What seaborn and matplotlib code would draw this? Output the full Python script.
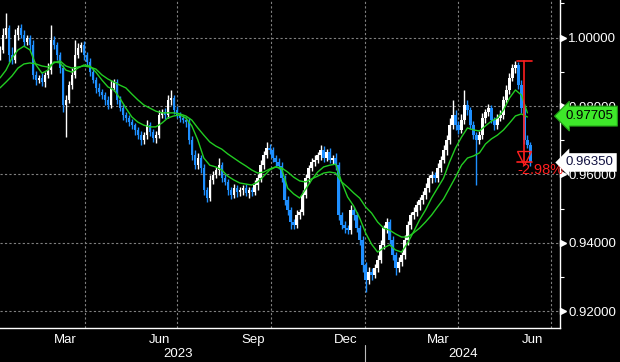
import numpy as np
import pandas as pd
import matplotlib
matplotlib.use("Agg")
import matplotlib.pyplot as plt
import matplotlib.dates as mdates
import matplotlib.transforms as mtransforms
from matplotlib.ticker import MultipleLocator, NullFormatter, FormatStrFormatter
import seaborn as sns

# candle closes (roughly every 3 calendar days)
closes = [
    0.9964, 1.0008, 1.0028, 0.9949, 0.9935, 1.0008, 1.0028, 1.0008, 0.9987, 0.9999,
    0.9978, 0.9891, 0.9876, 0.9882, 0.9870, 0.9891, 0.9905, 0.9993, 0.9978, 0.9949,
    0.9911, 0.9803, 0.9818, 0.9861, 0.9891, 0.9949, 0.9970, 0.9978, 0.9949, 0.9929,
    0.9899, 0.9876, 0.9853, 0.9841, 0.9832, 0.9818, 0.9803, 0.9853, 0.9870, 0.9818,
    0.9794, 0.9774, 0.9765, 0.9753, 0.9744, 0.9730, 0.9715, 0.9701, 0.9715, 0.9744,
    0.9724, 0.9706, 0.9715, 0.9774, 0.9782, 0.9774, 0.9818, 0.9823, 0.9788, 0.9774,
    0.9765, 0.9759, 0.9753, 0.9701, 0.9657, 0.9627, 0.9648, 0.9619, 0.9554, 0.9531,
    0.9584, 0.9598, 0.9613, 0.9627, 0.9589, 0.9578, 0.9554, 0.9540, 0.9560, 0.9549,
    0.9554, 0.9560, 0.9546, 0.9554, 0.9549, 0.9569, 0.9589, 0.9627, 0.9657, 0.9677,
    0.9671, 0.9648, 0.9636, 0.9625, 0.9589, 0.9525, 0.9496, 0.9461, 0.9452, 0.9481,
    0.9490, 0.9540, 0.9589, 0.9619, 0.9636, 0.9642, 0.9657, 0.9671, 0.9648, 0.9665,
    0.9642, 0.9648, 0.9627, 0.9481, 0.9452, 0.9443, 0.9437, 0.9496, 0.9481, 0.9443,
    0.9408, 0.9335, 0.9291, 0.9315, 0.9306, 0.9326, 0.9350, 0.9394, 0.9443, 0.9461,
    0.9408, 0.9364, 0.9326, 0.9344, 0.9364, 0.9408, 0.9452, 0.9481, 0.9490, 0.9511,
    0.9525, 0.9540, 0.9560, 0.9589, 0.9598, 0.9589, 0.9619, 0.9642, 0.9671, 0.9701,
    0.9744, 0.9774, 0.9744, 0.9730, 0.9759, 0.9803, 0.9788, 0.9744, 0.9715, 0.9701,
    0.9715, 0.9765, 0.9782, 0.9794, 0.9759, 0.9744, 0.9765, 0.9774, 0.9818, 0.9847,
    0.9882, 0.9911, 0.9920, 0.9861, 0.9794, 0.9701, 0.9686, 0.9635,
]
first_open = 0.9950

# wick lengths in pips above / below the body
upper_wick = [
    12, 20, 44, 10, 25, 18, 8, 12, 15, 10,
    8, 15, 12, 10, 14, 9, 20, 45, 12, 10,
    8, 10, 15, 12, 20, 44, 15, 10, 12, 8,
    10, 12, 9, 14, 10, 8, 12, 23, 10, 8,
    10, 12, 9, 8, 10, 7, 9, 12, 10, 14,
    10, 9, 12, 15, 10, 12, 14, 24, 10, 12,
    8, 10, 9, 12, 10, 14, 15, 10, 12, 9,
    14, 12, 10, 21, 10, 12, 9, 10, 12, 8,
    10, 9, 12, 8, 10, 14, 12, 15, 12, 18,
    12, 10, 9, 12, 10, 8, 12, 10, 9, 14,
    10, 15, 12, 10, 12, 14, 10, 15, 12, 10,
    12, 9, 14, 10, 8, 12, 10, 14, 10, 9,
    10, 12, 8, 14, 10, 12, 15, 14, 10, 12,
    10, 12, 9, 14, 10, 15, 12, 10, 14, 12,
    10, 12, 14, 10, 12, 10, 14, 12, 15, 14,
    20, 44, 15, 12, 18, 44, 14, 10, 12, 9,
    12, 14, 10, 12, 10, 9, 12, 14, 12, 15,
    14, 12, 12, 10, 15, 12, 14, 8,
]
lower_wick = [
    15, 10, 8, 20, 12, 10, 14, 9, 12, 10,
    14, 12, 15, 10, 12, 14, 9, 10, 12, 15,
    14, 20, 94, 10, 12, 9, 10, 12, 14, 10,
    12, 10, 15, 12, 10, 14, 12, 10, 9, 12,
    10, 14, 12, 10, 12, 15, 10, 14, 12, 10,
    12, 10, 14, 9, 10, 12, 10, 14, 12, 10,
    12, 10, 14, 12, 15, 10, 12, 14, 15, 12,
    10, 12, 9, 14, 12, 10, 15, 12, 10, 14,
    12, 15, 10, 14, 12, 10, 14, 12, 10, 9,
    10, 12, 14, 10, 12, 15, 14, 20, 12, 10,
    12, 10, 9, 14, 10, 12, 10, 14, 12, 10,
    10, 12, 14, 15, 12, 14, 10, 12, 14, 12,
    15, 20, 35, 12, 14, 10, 12, 10, 12, 14,
    12, 14, 20, 10, 12, 10, 14, 12, 10, 12,
    14, 10, 12, 10, 14, 12, 10, 12, 10, 14,
    12, 10, 14, 12, 10, 12, 14, 12, 10, 132,
    12, 10, 14, 12, 10, 14, 12, 10, 12, 10,
    12, 10, 14, 12, 15, 12, 10, 10,
]

# the two moving averages, read every second candle
ma_fast = [
    0.9882, 0.9905, 0.9940, 0.9964, 0.9975, 0.9964, 0.9920, 0.9896, 0.9905, 0.9929,
    0.9926, 0.9905, 0.9899, 0.9911, 0.9920, 0.9917, 0.9899, 0.9876, 0.9856, 0.9847,
    0.9823, 0.9794, 0.9768, 0.9753, 0.9744, 0.9739, 0.9739, 0.9750, 0.9765, 0.9771,
    0.9774, 0.9765, 0.9742, 0.9701, 0.9648, 0.9627, 0.9622, 0.9613, 0.9595, 0.9584,
    0.9575, 0.9572, 0.9569, 0.9578, 0.9595, 0.9613, 0.9622, 0.9616, 0.9560, 0.9543,
    0.9531, 0.9557, 0.9584, 0.9607, 0.9622, 0.9627, 0.9630, 0.9578, 0.9534, 0.9508,
    0.9473, 0.9429, 0.9396, 0.9373, 0.9385, 0.9394, 0.9379, 0.9373, 0.9399, 0.9432,
    0.9467, 0.9496, 0.9531, 0.9560, 0.9589, 0.9636, 0.9677, 0.9709, 0.9736, 0.9730,
    0.9727, 0.9742, 0.9756, 0.9765, 0.9788, 0.9823, 0.9847, 0.9832, 0.9780,
]
ma_slow = [
    0.9853, 0.9870, 0.9888, 0.9911, 0.9923, 0.9926, 0.9923, 0.9917, 0.9914, 0.9926,
    0.9932, 0.9917, 0.9911, 0.9914, 0.9917, 0.9914, 0.9908, 0.9891, 0.9879, 0.9870,
    0.9861, 0.9853, 0.9835, 0.9818, 0.9803, 0.9794, 0.9785, 0.9780, 0.9780, 0.9780,
    0.9777, 0.9771, 0.9759, 0.9736, 0.9715, 0.9695, 0.9683, 0.9674, 0.9660, 0.9648,
    0.9636, 0.9625, 0.9613, 0.9604, 0.9607, 0.9616, 0.9622, 0.9619, 0.9607, 0.9592,
    0.9581, 0.9578, 0.9587, 0.9595, 0.9604, 0.9607, 0.9604, 0.9578, 0.9563, 0.9546,
    0.9531, 0.9505, 0.9487, 0.9461, 0.9443, 0.9437, 0.9426, 0.9417, 0.9417, 0.9429,
    0.9443, 0.9461, 0.9481, 0.9505, 0.9528, 0.9560, 0.9592, 0.9627, 0.9648, 0.9654,
    0.9663, 0.9689, 0.9704, 0.9715, 0.9730, 0.9750, 0.9771, 0.9777, 0.9768,
]

price_ticks = [0.92, 0.94, 0.96, 0.98, 1.00]
ma_last_label = 0.97705
drop_label = "-2.98%"
year_labels = ["2023", "2024"]

BLUE = "#1e8fff"
GREEN = "#22cc22"
RED = "#ff1f1f"

sns.set_style("dark", {"axes.facecolor": "black", "figure.facecolor": "black"})
plt.rcParams["font.family"] = ["Liberation Sans", "DejaVu Sans"]

dates = pd.date_range("2023-01-08", "2024-06-11", periods=len(closes))
df = pd.DataFrame({"date": dates, "close": closes})
df["open"] = df["close"].shift(1).fillna(first_open)
df["top"] = df[["open", "close"]].max(axis=1)
df["bot"] = df[["open", "close"]].min(axis=1)
df["high"] = df["top"] + np.array(upper_wick) / 10000
df["low"] = df["bot"] - np.array(lower_wick) / 10000
df["color"] = np.where(df["close"] >= df["open"], "white", BLUE)

ma_df = pd.DataFrame({"date": dates[::2], "fast": ma_fast, "slow": ma_slow})

fig = plt.figure(figsize=(6.2, 3.62), dpi=100, facecolor="black")
ax = fig.add_axes([0, 34 / 362, 560 / 620, 328 / 362])
ax.set_facecolor("black")

# quarter gridlines
quarters = pd.date_range("2023-04-01", "2024-07-01", freq="QS")
for q in quarters:
    ax.axvline(q, color="#808080", lw=0.8, ls=(0, (2, 2)), zorder=0)

ax.vlines(df["date"], df["low"], df["high"], colors=df["color"], lw=1.0, zorder=2)
ax.bar(df["date"], (df["top"] - df["bot"]).clip(lower=0.0002), bottom=df["bot"],
       width=2.4, color=df["color"], lw=0, zorder=2)

sns.lineplot(data=ma_df, x="date", y="fast", ax=ax, color=GREEN, lw=1.0, zorder=3)
sns.lineplot(data=ma_df, x="date", y="slow", ax=ax, color=GREEN, lw=1.0, zorder=3)

ax.set_xlim(pd.Timestamp("2023-01-08"), pd.Timestamp("2024-07-10"))
ax.set_ylim(0.9151, 1.0110)
ax.set_xlabel("")
ax.set_ylabel("")

# y axis on the right
ax.yaxis.tick_right()
ax.set_yticks(price_ticks)
ax.yaxis.set_major_formatter(FormatStrFormatter("%.5f"))
ax.yaxis.set_minor_locator(MultipleLocator(0.01))
ax.tick_params(axis="y", which="major", length=0, pad=6, labelcolor="white", labelsize=9.5)
ax.tick_params(axis="y", which="minor", length=3, width=0.8, color="white", direction="out")
ax.yaxis.grid(True, color="#808080", lw=0.8, ls=(0, (2, 2)))
ax.xaxis.grid(False)
tr_y = mtransforms.blended_transform_factory(ax.transAxes, ax.transData)
ax.plot(np.full(len(price_ticks), 1.006), price_ticks, ls="none", marker=">",
        ms=4, color="white", transform=tr_y, clip_on=False)

# x axis: month ticks, labels at mid month
ax.xaxis.set_major_locator(mdates.MonthLocator())
ax.xaxis.set_major_formatter(NullFormatter())
ax.xaxis.set_minor_locator(mdates.MonthLocator(bymonth=[3, 6, 9, 12], bymonthday=13))
ax.xaxis.set_minor_formatter(mdates.DateFormatter("%b"))
ax.tick_params(axis="x", which="major", length=3, width=0.8, color="white", direction="out")
ax.tick_params(axis="x", which="minor", length=0, pad=4, labelcolor="white", labelsize=9.5)

for side in ["top", "left"]:
    ax.spines[side].set_visible(False)
for side in ["right", "bottom"]:
    ax.spines[side].set_color("white")
    ax.spines[side].set_linewidth(1.0)

tr_x = mtransforms.blended_transform_factory(ax.transData, ax.transAxes)
new_year = pd.Timestamp("2024-01-01")
ax.plot([new_year, new_year], [-0.052, -0.11], color="#bbbbbb", lw=0.8,
        transform=tr_x, clip_on=False)
ax.text(pd.Timestamp("2023-07-02"), -0.079, year_labels[0], color="white", fontsize=9.5,
        ha="center", va="center", transform=tr_x)
ax.text(pd.Timestamp("2024-04-06"), -0.079, year_labels[1], color="white", fontsize=9.5,
        ha="center", va="center", transform=tr_x)

# drop annotation
peak = df["high"].iloc[-12:].max()
last = df["close"].iloc[-1]
x_mark = df["date"].iloc[-3]
half = pd.Timedelta(days=7)
ax.plot([x_mark, x_mark], [peak, last], color=RED, lw=1.2, zorder=4)
ax.plot([x_mark - half, x_mark + half], [peak, peak], color=RED, lw=1.2, zorder=4)
ax.plot([x_mark - half, x_mark + half], [last, last], color=RED, lw=1.2, zorder=4)
ax.plot([x_mark], [last + 0.0014], marker="v", ms=10, mfc="none", mec=RED, mew=1.0, zorder=4)
ax.text(df["date"].iloc[-1] + pd.Timedelta(days=10), last - 0.0002, drop_label,
        color=RED, fontsize=10.5, ha="center", va="top", zorder=4)

# last value tags
ax.annotate(f"{ma_last_label:.5f}", xy=(1.0, ma_last_label), xycoords=tr_y,
            xytext=(4, 0), textcoords="offset points", ha="left", va="center",
            fontsize=9.5, color="black", annotation_clip=False, zorder=6,
            bbox=dict(boxstyle="larrow,pad=0.3", fc="#3ee82a", ec="#1f9a14", lw=0.8))
ax.annotate(f"{last:.5f}", xy=(1.0, last), xycoords=tr_y,
            xytext=(4, 0), textcoords="offset points", ha="left", va="center",
            fontsize=9.5, color="#101040", annotation_clip=False, zorder=6,
            bbox=dict(boxstyle="larrow,pad=0.25", fc="white", ec="none"))

fig.savefig("out.png", dpi=100, facecolor="black")
